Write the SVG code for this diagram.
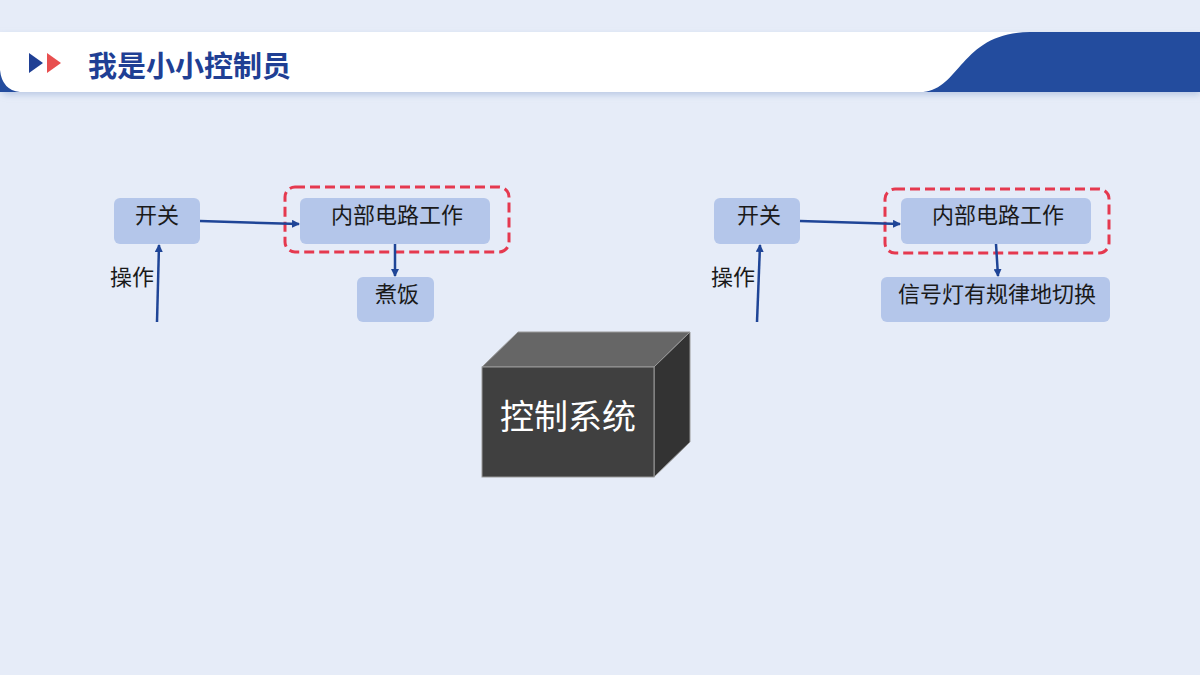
<svg xmlns="http://www.w3.org/2000/svg" width="1200" height="675" viewBox="0 0 1200 675">
<defs>
<marker id="ah" markerWidth="8" markerHeight="8" refX="7" refY="4" orient="auto" markerUnits="userSpaceOnUse"><path d="M0,0 L8,4 L0,8 z" fill="#1f4597"/></marker>
<filter id="sh" x="-5%" y="-50%" width="110%" height="200%"><feDropShadow dx="0" dy="3" stdDeviation="3" flood-color="#9fb4d8" flood-opacity="0.6"/></filter>
</defs>
<style>
.n{fill:#b4c6ea;}
.t{font-family:"Noto Sans CJK SC","Noto Sans",sans-serif;font-size:22px;fill:#1a1a1a;text-anchor:middle;}
.c{stroke:#1f4597;stroke-width:2.5;fill:none;marker-end:url(#ah);}
.d{fill:none;stroke:#e5394f;stroke-width:3;stroke-dasharray:10 5;}
</style>
<rect width="1200" height="675" fill="#e6ecf8"/>
<g id="header">
<path d="M0,32 H1200 V92 H10 Q0,92 0,82 Z" fill="#fff" filter="url(#sh)"/>
<path d="M0,70 Q2,90 20,92 H0 Z" fill="#234c9e"/>
<path d="M920,92 C960,92 960,32 1030,32 H1200 V92 Z" fill="#234c9e"/>
<polygon points="29,53 43,63 29,73" fill="#1f3f94"/>
<polygon points="47,53 61,63 47,73" fill="#e84f4f"/>
<text x="88" y="77" font-family="Noto Sans CJK SC,sans-serif" font-size="29" font-weight="bold" fill="#1f3f94">我是小小控制员</text>
</g>
<g id="left">
<g id="l-switch"><rect class="n" x="114" y="198" width="86" height="46" rx="6"/><text class="t" x="157" y="223">开关</text></g>
<g id="l-circuit"><rect class="n" x="300" y="198" width="190" height="46" rx="6"/><text class="t" x="397" y="223">内部电路工作</text></g>
<rect id="l-dash" class="d" x="285" y="187" width="224" height="65" rx="10"/>
<g id="l-cook"><rect class="n" x="357" y="277" width="77" height="45" rx="6"/><text class="t" x="397" y="302">煮饭</text></g>
<text class="t" x="132" y="285">操作</text>
</g>
<g id="right">
<g id="r-switch"><rect class="n" x="714" y="198" width="86" height="46" rx="6"/><text class="t" x="759" y="223">开关</text></g>
<g id="r-circuit"><rect class="n" x="901" y="198" width="190" height="46" rx="6"/><text class="t" x="998" y="223">内部电路工作</text></g>
<rect id="r-dash" class="d" x="885" y="189" width="224" height="64" rx="10"/>
<g id="r-light"><rect class="n" x="881" y="277" width="229" height="45" rx="6"/><text class="t" x="997" y="302">信号灯有规律地切换</text></g>
<text class="t" x="733" y="285">操作</text>
</g>
<g id="connectors">
<line class="c" x1="157" y1="322" x2="159" y2="245"/>
<line class="c" x1="200" y1="221" x2="299" y2="224"/>
<line class="c" x1="395" y1="244" x2="395" y2="276"/>
<line class="c" x1="757" y1="322" x2="760" y2="245"/>
<line class="c" x1="800" y1="221" x2="900" y2="224"/>
<line class="c" x1="996" y1="244" x2="998" y2="276"/>
</g>
<g id="cube">
<polygon points="482,367 518,332 690,332 654,367" fill="#666" stroke="#999" stroke-width="1"/>
<polygon points="654,367 690,332 690,442 654,477" fill="#333" stroke="#999" stroke-width="1"/>
<rect x="482" y="367" width="172" height="110" fill="#404040" stroke="#999" stroke-width="1"/>
<text x="568" y="429" font-family="Noto Sans CJK SC,sans-serif" font-size="34" fill="#fff" text-anchor="middle">控制系统</text>
</g>
</svg>
